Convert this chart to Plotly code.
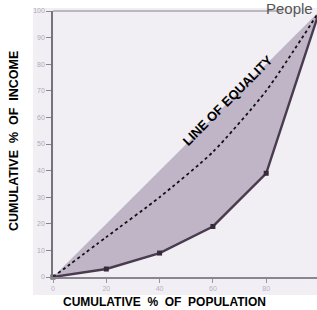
import plotly.graph_objects as go

# Data
population = [0, 20, 40, 60, 80, 100]          # cumulative % of population
income = [0, 3, 9, 19, 39, 100]                # Lorenz curve: cumulative % of income
equality_x = [0, 100]                          # true equality diagonal (shading edge)
equality_y = [0, 100]
dotted_x = [0, 20, 40, 60, 80, 100]            # drawn "line of equality" (as printed)
dotted_y = [0, 15, 30, 47, 70, 100]
x_ticks = [0, 20, 40, 60, 80, 100]
y_ticks = [0, 10, 20, 30, 40, 50, 60, 70, 80, 90, 100]

fig = go.Figure()

fig.add_trace(go.Scatter(
    x=equality_x, y=equality_y, mode="lines",
    line=dict(width=0, color="rgba(0,0,0,0)"),
    hoverinfo="skip", showlegend=False,
))
fig.add_trace(go.Scatter(
    x=population, y=income, mode="lines",
    line=dict(width=0, color="rgba(0,0,0,0)"),
    fill="tonexty", fillcolor="#c0b5c7",
    hoverinfo="skip", showlegend=False,
))
fig.add_trace(go.Scatter(
    x=dotted_x, y=dotted_y, mode="lines",
    line=dict(color="#111111", width=1.8, dash="dot", shape="spline", smoothing=0.6),
    showlegend=False,
))
fig.add_trace(go.Scatter(
    x=population, y=income, mode="lines+markers",
    line=dict(color="#483c4e", width=2.4),
    marker=dict(symbol="square", size=5, color="#342a3a"),
    cliponaxis=False, showlegend=False,
))

fig.update_layout(
    width=317, height=310,
    margin=dict(l=53, r=0, t=11, b=33),
    paper_bgcolor="white",
    plot_bgcolor="#f3f1f6",
    font=dict(family="Liberation Sans, Arial, sans-serif"),
    xaxis=dict(
        range=[0, 99.06], tickvals=x_ticks, ticktext=[str(v) for v in x_ticks],
        showgrid=False, zeroline=False, showline=True, linecolor="#8a8590", linewidth=1.5,
        ticks="outside", ticklen=4, tickcolor="#9a95a0", automargin=False,
        tickfont=dict(size=7, color="#b8b0c2"),
    ),
    yaxis=dict(
        range=[0, 100], tickvals=y_ticks, ticktext=[str(v) for v in y_ticks],
        showgrid=False, zeroline=False, showline=True, linecolor="#77727d", linewidth=1.5,
        ticks="outside", ticklen=5, tickcolor="#8a8590", automargin=False,
        tickfont=dict(size=7, color="#b0a8bc"),
    ),
    shapes=[
        dict(type="rect", xref="paper", yref="paper", x0=-0.076, x1=1.0, y0=-0.068, y1=1.011,
             fillcolor="#f1eff4", line=dict(width=0), layer="below"),
        dict(type="line", xref="paper", yref="paper", x0=0, x1=0.87, y0=1.0, y1=1.0,
             line=dict(color="#a8a4ae", width=1.5)),
    ],
    annotations=[
        dict(text="LINE OF EQUALITY", x=65.5, y=66.5, xref="x", yref="y",
             showarrow=False, textangle=-45,
             font=dict(size=13, color="#000000", family="Liberation Sans, Arial, sans-serif", weight="bold")),
        dict(text="CUMULATIVE  %  OF  POPULATION", x=(164 - 53) / 264, y=-(302 - 277) / 266,
             xref="paper", yref="paper", showarrow=False, xanchor="center", yanchor="middle",
             font=dict(size=12, color="#000000", family="Liberation Sans, Arial", weight="bold")),
        dict(text="CUMULATIVE  %  OF  INCOME", x=(14 - 53) / 264, y=(277 - 141) / 266,
             xref="paper", yref="paper", showarrow=False, textangle=-90,
             xanchor="center", yanchor="middle",
             font=dict(size=12.5, color="#000000", family="Liberation Sans, Arial", weight="bold")),
        dict(text="People", x=(289 - 53) / 264, y=(277 + 2) / 266,
             xref="paper", yref="paper", showarrow=False, xanchor="center", yanchor="top",
             font=dict(size=15, color="#555555", family="Liberation Sans, Arial, sans-serif")),
    ],
)

fig.write_html("out.html", config={"displayModeBar": False},
               post_script="document.body.style.margin='0';")
